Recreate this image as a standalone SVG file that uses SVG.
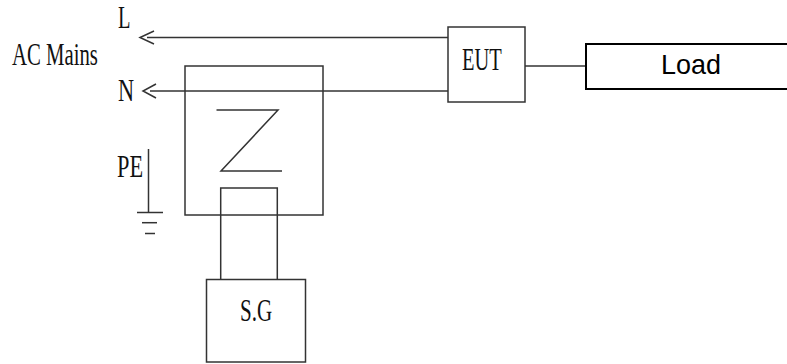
<svg xmlns="http://www.w3.org/2000/svg" width="787" height="364" viewBox="0 0 787 364">
<style>
.w{fill:none;stroke:#333;stroke-width:1.5}
.b{fill:#fff;stroke:#333;stroke-width:1.5}
.t{font-family:"Liberation Serif","Times New Roman",serif;font-size:31px;fill:#111}
.s{font-family:"Liberation Sans",Arial,sans-serif;font-size:28px;fill:#000}
</style>
<rect width="787" height="364" fill="#fff"/>
<g id="labels">
<text class="t" transform="translate(12,65) scale(0.67,1)">AC Mains</text>
<text class="t" transform="translate(118,27.5) scale(0.66,1)">L</text>
<text class="t" transform="translate(118,101) scale(0.72,1)">N</text>
<text class="t" transform="translate(117,176.5) scale(0.72,1)">PE</text>
</g>
<g id="connectors">
<polyline class="w" points="154,31 140,37.5 154,44"/>
<line class="w" x1="147" y1="37.5" x2="448" y2="37.5"/>
<polyline class="w" points="156,84 143,91 156,98"/>
<line class="w" x1="150" y1="91" x2="448" y2="91"/>
<line class="w" x1="525" y1="66" x2="586" y2="66"/>
<line class="w" x1="148.5" y1="149" x2="148.5" y2="212.5"/>
<line class="w" x1="137" y1="212.5" x2="163" y2="212.5"/>
<line class="w" x1="142" y1="222.7" x2="157" y2="222.7"/>
<line class="w" x1="145" y1="233.5" x2="155" y2="233.5"/>
</g>
<g id="impedance">
<rect class="w" x="185" y="66" width="138" height="149"/>
<polyline class="w" points="216.5,110 278,110 221,171 282,171"/>
</g>
<g id="loop">
<polyline class="w" points="220.7,279.5 220.7,188 277.3,188 277.3,279.5"/>
</g>
<g id="sg">
<rect class="w" x="206.5" y="279.5" width="99" height="82.5"/>
<text class="t" transform="translate(240,320.5) scale(0.68,1)">S.G</text>
</g>
<g id="eut">
<rect class="b" x="448" y="27" width="77" height="75"/>
<text class="t" transform="translate(462,69.5) scale(0.66,1)">EUT</text>
</g>
<g id="load">
<rect x="586" y="44" width="210" height="45" fill="#fff" stroke="#000" stroke-width="2"/>
<text class="s" x="661" y="74" textLength="60" lengthAdjust="spacingAndGlyphs">Load</text>
</g>
</svg>
